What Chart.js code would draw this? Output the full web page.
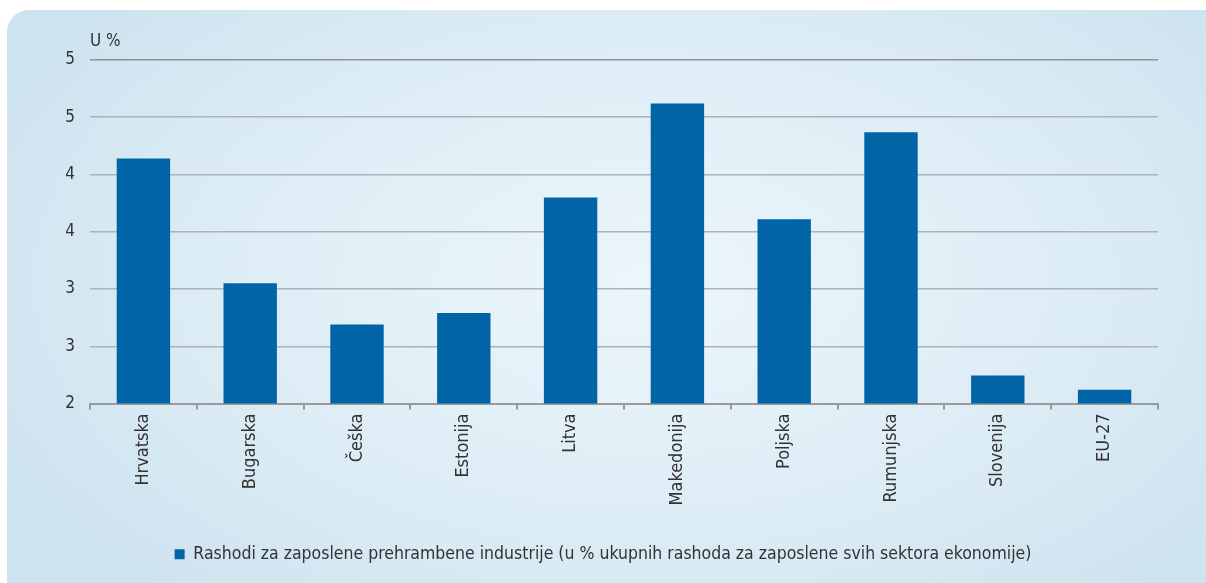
<!DOCTYPE html>
<html><head><meta charset="utf-8">
<script src="https://cdn.jsdelivr.net/npm/chart.js@4/dist/chart.umd.min.js"></script>
<style>
html,body{margin:0;padding:0;background:#fff;width:1206px;height:583px;overflow:hidden;}
#panel{position:absolute;left:7px;top:10px;width:1230px;height:600px;border-radius:22px 0 0 0;
background:radial-gradient(ellipse 60% 70% at 52% 45%, #ecf6fb 0%, #dcecf5 60%, #cde3ef 100%);}
#wrap{position:absolute;left:0;top:0;width:1206px;height:583px;}
</style></head><body>
<div id="panel"></div>
<div id="wrap"><canvas id="c" width="1206" height="583"></canvas></div>
<script>
const categories = ['Hrvatska','Bugarska','Češka','Estonija','Litva','Makedonija','Poljska','Rumunjska','Slovenija','EU-27'];
const values = [4.14, 3.05, 2.69, 2.79, 3.80, 4.62, 3.61, 4.37, 2.245, 2.12];
const yTickLabels = ['2','3','3','4','4','5','5'];
const seriesName = 'Rashodi za zaposlene prehrambene industrije (u % ukupnih rashoda za zaposlene svih sektora ekonomije)';
const unitLabel = 'U %';

const FONT = "'DejaVu Sans Condensed', 'Liberation Sans Narrow', Roboto, sans-serif";
const unitPlugin = {
  id:'unit',
  afterDraw(chart){
    const ctx = chart.ctx, a = chart.chartArea;
    ctx.save();
    ctx.font = "17px " + FONT;
    ctx.fillStyle = '#333';
    ctx.textBaseline = 'middle';
    ctx.fillText(unitLabel, a.left, 42);
    ctx.restore();
  }
};
new Chart(document.getElementById('c'), {
  type:'bar',
  data:{labels:categories, datasets:[{label:seriesName, data:values, backgroundColor:'#0064a7', barPercentage:0.5, categoryPercentage:1.0}]},
  options:{
    responsive:false, animation:false,
    layout:{padding:{top:60,right:0,left:0,bottom:10}},
    plugins:{
      legend:{position:'bottom', labels:{boxWidth:10, boxHeight:10, color:'#333', font:{family:FONT,size:17.5}, padding:8}},
      tooltip:{enabled:false}
    },
    scales:{
      x:{
        grid:{offset:true, drawOnChartArea:false, drawTicks:true, tickLength:6, color:'#999', lineWidth:2},
        border:{display:true, color:'#9a9a9a', width:2},
        ticks:{color:'#333', font:{family:FONT,size:18}, maxRotation:90, minRotation:90, padding:4},
        afterFit(s){ s.height = 134; }
      },
      y:{
        min:2, max:5,
        grid:{drawTicks:false, color:(c)=> c.tick && c.tick.value===5 ? '#8e9296' : '#adb2b7', lineWidth:1.5},
        border:{display:false},
        ticks:{stepSize:0.5, padding:15, color:'#333', font:{family:FONT,size:17},
          callback:(v,i)=> yTickLabels[i]},
        afterFit(s){ s.width = 90; }
      },
      yr:{
        position:'right', display:true, min:2, max:5,
        grid:{display:false}, border:{display:false}, ticks:{display:false},
        afterFit(s){ s.width = 48; }
      }
    }
  },
  plugins:[unitPlugin]
});
</script>
</body></html>
